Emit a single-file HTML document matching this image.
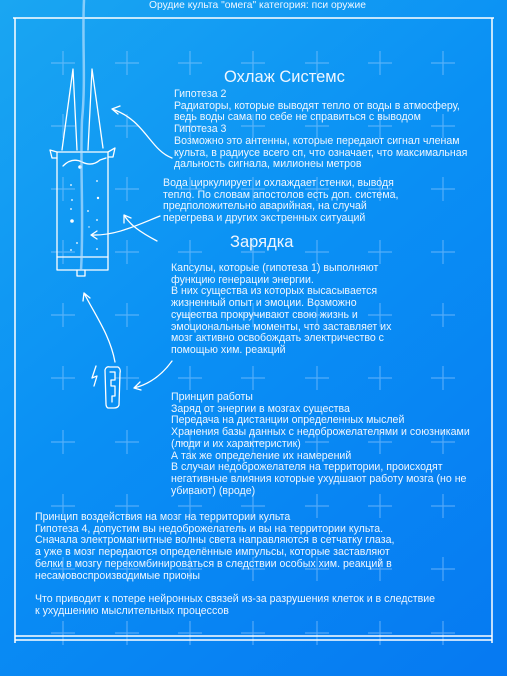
<!DOCTYPE html>
<html><head><meta charset="utf-8">
<style>
html,body{margin:0;padding:0}
body{width:507px;height:676px;overflow:hidden;position:relative;
background:linear-gradient(140deg,#1aa6f2 0%,#0a90f4 45%,#0679f2 100%);
font-family:"Liberation Sans","Noto Sans CJK SC",sans-serif;color:#eef6ff}
svg{position:absolute;left:0;top:0}
.t{position:absolute;white-space:nowrap;font-size:10.6px;line-height:11.7px}
.h{position:absolute;white-space:nowrap;font-size:16.5px}
</style></head><body>
<svg width="507" height="676">
  <g id="crosses" stroke="#9fd0ff" stroke-opacity="0.5" stroke-width="1.2"></g>
  <g fill="none" stroke="#ffffff" stroke-width="1.5">
    <line x1="13" y1="18" x2="494" y2="18"/>
    <line x1="15" y1="18" x2="15" y2="643"/>
    <line x1="492" y1="18" x2="492" y2="643"/>
    <line x1="15" y1="636" x2="492" y2="636"/>
    <line x1="15" y1="640" x2="492" y2="640"/>
  </g>
  <g fill="none" stroke="#ffffff" stroke-width="1.3" stroke-linecap="round" stroke-linejoin="round">
    <rect x="57" y="152" width="51" height="118"/>
    <line x1="57" y1="257" x2="108" y2="257"/>
    <path d="M77 270 v6 h8 v-6"/>
    <path d="M62 150 L73 69 L77 150"/>
    <path d="M88 150 L92 69 L103 148"/>
    <path d="M57 152 L50 150 L52 158 L57 158"/>
    <path d="M108 152 L115 148 L113 157 L108 157"/>
    <path d="M63 166 Q72 157 82 162 T100 160 L106 158"/>
    <path d="M172 158 C150 150 145 120 112 109 M112 109 l8 -3 M112 109 l6 5"/>
    <path d="M157 241 C140 232 130 225 124 215 M124 215 l0 8 M124 215 l7 3"/>
    <path d="M160 216 C135 226 115 236 91 235 M91 235 l6 -4 M91 235 l6 4"/>
    <path d="M115 362 C110 335 95 315 84 293 M84 293 l-1 8 M84 293 l6 5"/>
    <path d="M172 361 C162 375 150 384 134 388 M134 388 l6 -6 M134 388 l7 2"/>
    <path d="M105 370 Q106 366 110 367 L118 367 Q121 369 120 373 L119 405 Q118 408 114 408 L108 408 Q106 407 106 404 Z"/>
    <path d="M110 372 h5 v8 h-4 v6 h4 v10 h-3 v6"/>
    <path d="M96 366 L92 378 L97 376 L94 386"/>
  </g>
  <g fill="#ffffff">
    <circle cx="80" cy="167" r="1.8"/><circle cx="71" cy="185" r="0.9"/><circle cx="97" cy="181" r="0.9"/>
    <circle cx="72" cy="200" r="0.9"/><circle cx="98" cy="198" r="1.2"/><circle cx="71" cy="209" r="0.9"/>
    <circle cx="88" cy="211" r="0.9"/><circle cx="72" cy="221" r="1.8"/><circle cx="97" cy="220" r="0.9"/>
    <circle cx="89" cy="227" r="0.7"/><circle cx="77" cy="243" r="0.9"/><circle cx="97" cy="249" r="0.9"/>
    <circle cx="71" cy="250" r="0.9"/>
  </g>
  <path d="M84 0 C82 40 86 80 82 120 C80 170 84 220 81 270" fill="none" stroke="#b5defd" stroke-opacity="0.7" stroke-width="2.5"/>
</svg>
<script>
var g=document.getElementById('crosses');
var xs=[63,127,190,253,317,380,443], ys=[63,126,189,252,315,378,442,506,569,633];
ys.forEach(function(y){xs.forEach(function(x){
 var p=document.createElementNS('http://www.w3.org/2000/svg','path');
 p.setAttribute('d','M'+(x-12)+' '+y+'h24M'+x+' '+(y-12)+'v24');
 
 
 g.appendChild(p);});});
</script>
<div class="t" style="left:149px;top:0px;font-size:10.3px">Орудие культа "омега" категория: пси оружие</div>
<div class="h" style="left:224px;top:68px">Охлаж Системс</div>
<div class="t" style="left:174px;top:89px">Гипотеза 2<br>Радиаторы, которые выводят тепло от воды в атмосферу,<br>ведь воды сама по себе не справиться с выводом<br>Гипотеза 3<br>Возможно это антенны, которые передают сигнал членам<br>культа, в радиусе всего сп, что означает, что максимальная<br>дальность сигнала, милионеы метров</div>
<div class="t" style="left:163px;top:178px">Вода циркулирует и охлаждает стенки, выводя<br>тепло. По словам апостолов есть доп. система,<br>предположительно аварийная, на случай<br>перегрева и других экстренных ситуаций</div>
<div class="h" style="left:230px;top:233px">Зарядка</div>
<div class="t" style="left:171px;top:263px">Капсулы, которые (гипотеза 1) выполняют<br>функцию генерации энергии.<br>В них существа из которых высасывается<br>жизненный опыт и эмоции. Возможно<br>существа прокручивают свою жизнь и<br>эмоциональные моменты, что заставляет их<br>мозг активно освобождать электричество с<br>помощью хим. реакций</div>
<div class="t" style="left:171px;top:392px">Принцип работы<br>Заряд от энергии в мозгах существа<br>Передача на дистанции определенных мыслей<br>Хранения базы данных с недоброжелателями и союзниками<br>(люди и их характеристик)<br>А так же определение их намерений<br>В случаи недоброжелателя на территории, происходят<br>негативные влияния которые ухудшают работу мозга (но не<br>убивают) (вроде)</div>
<div class="t" style="left:35px;top:512px">Принцип воздействия на мозг на территории культа<br>Гипотеза 4, допустим вы недоброжелатель и вы на территории культа.<br>Сначала электромагнитные волны света направляются в сетчатку глаза,<br>а уже в мозг передаются определённые импульсы, которые заставляют<br>белки в мозгу перекомбинироваться в следствии особых хим. реакций в<br>несамовоспроизводимые прионы</div>
<div class="t" style="left:35px;top:594px">Что приводит к потере нейронных связей из-за разрушения клеток и в следствие<br>к ухудшению мыслительных процессов</div>
</body></html>
